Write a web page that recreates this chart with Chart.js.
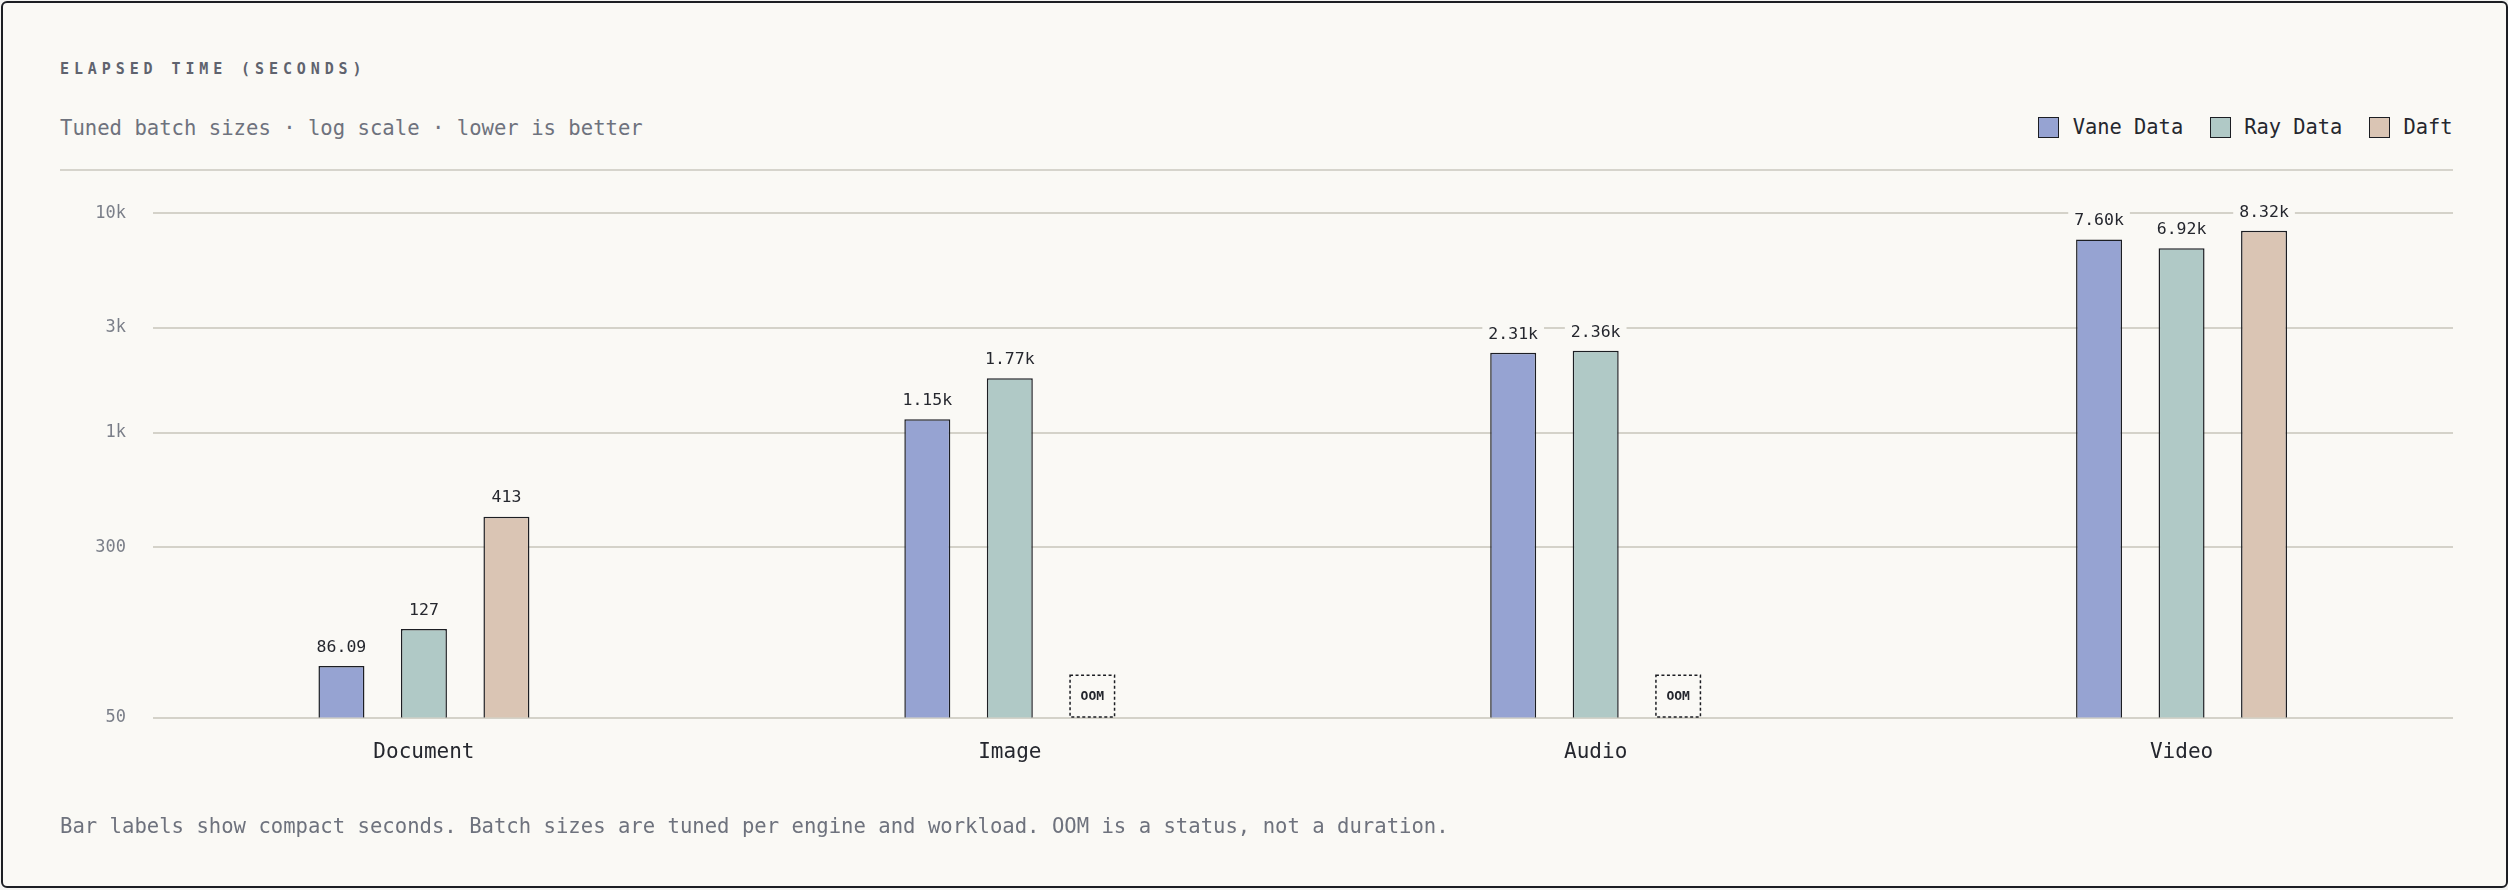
<!DOCTYPE html>
<html>
<head>
<meta charset="utf-8">
<title>Elapsed time</title>
<script src="https://cdn.jsdelivr.net/npm/chart.js@4.4.1/dist/chart.umd.min.js"></script>
<style>
  html, body { margin: 0; padding: 0; background: #f3f3f1; }
  body { width: 2508px; height: 890px; position: relative; overflow: hidden; font-family: "DejaVu Sans Mono", monospace; }
  #frame { position: absolute; left: 1px; top: 1px; width: 2503px; height: 883px; border: 2px solid #1c1e23; border-radius: 6px; background: #faf9f5; }
  #chart { position: absolute; left: 0; top: 0; }
  .title { position: absolute; left: 60px; top: 62px; font-size: 15px; line-height: 15px; letter-spacing: 4.9px; font-weight: 700; color: #5f636e; white-space: nowrap; }
  .sub { position: absolute; left: 60px; top: 118px; font-size: 20.6px; line-height: 20.6px; color: #6e727d; white-space: nowrap; }
  .rule { position: absolute; left: 60px; top: 169px; width: 2393px; height: 2px; background: #d6d4cc; }
  #legend { position: absolute; right: 55.5px; top: 117px; height: 21px; display: flex; align-items: center; }
  #legend .item { display: flex; align-items: center; margin-left: 26.5px; }
  #legend .item:first-child { margin-left: 0; }
  #legend .sw { width: 21px; height: 21px; box-sizing: border-box; border: 1.5px solid #1c1e23; margin-right: 13.5px; }
  #legend .lab { font-size: 20.4px; line-height: 21px; color: #25272e; white-space: nowrap; }
  .foot { position: absolute; left: 60px; top: 816px; font-size: 20.6px; line-height: 20.6px; color: #6e727d; white-space: nowrap; }
</style>
</head>
<body>
<div id="frame"></div>
<div class="title">ELAPSED TIME (SECONDS)</div>
<div class="sub">Tuned batch sizes · log scale · lower is better</div>
<div id="legend"></div>
<div class="rule"></div>
<canvas id="chart" width="2508" height="890"></canvas>
<div class="foot">Bar labels show compact seconds. Batch sizes are tuned per engine and workload. OOM is a status, not a duration.</div>
<script>
// data
const categories = ['Document', 'Image', 'Audio', 'Video'];
const engines = ['Vane Data', 'Ray Data', 'Daft'];
const vaneData = [86.09, 1150, 2310, 7600];
const rayData = [127, 1770, 2360, 6920];
const daftData = [413, null, null, 8320];
const daftStatus = ['', 'OOM', 'OOM', ''];
const tickValues = [50, 300, 1000, 3000, 10000];
const tickLabels = ['50', '300', '1k', '3k', '10k'];
const colors = ['#96a3d2', '#b0c9c6', '#dac5b4'];

const BG = '#faf9f5';
const INK = '#25272e';
const FONT = '"DejaVu Sans Mono", monospace';
Chart.defaults.font.family = FONT;

// legend
const legend = document.getElementById('legend');
engines.forEach((name, i) => {
  const item = document.createElement('div');
  item.className = 'item';
  item.innerHTML = '<span class="sw" style="background:' + colors[i] + '"></span><span class="lab">' + name + '</span>';
  legend.appendChild(item);
});

function compact(v) {
  if (v >= 1000) return (v / 1000).toFixed(2) + 'k';
  if (v < 100) return v.toFixed(2);
  return String(Math.round(v));
}

// horizontal rules, a bit inset from the plot edges
const gridLines = {
  id: 'gridLines',
  beforeDatasetsDraw(chart) {
    const { ctx, chartArea, scales: { y } } = chart;
    ctx.save();
    ctx.strokeStyle = '#d4d2c9';
    ctx.lineWidth = 2;
    tickValues.forEach(v => {
      const py = Math.round(y.getPixelForValue(v));
      ctx.beginPath();
      ctx.moveTo(chartArea.left + 22, py);
      ctx.lineTo(chartArea.right - 21.5, py);
      ctx.stroke();
    });
    ctx.restore();
  }
};

// value labels + OOM boxes
const barLabels = {
  id: 'barLabels',
  afterDatasetsDraw(chart) {
    const { ctx, chartArea } = chart;
    ctx.save();
    ctx.font = '16.5px ' + FONT;
    ctx.textAlign = 'center';
    ctx.textBaseline = 'middle';
    chart.data.datasets.forEach((ds, di) => {
      chart.getDatasetMeta(di).data.forEach((bar, i) => {
        const v = ds.data[i];
        if (v == null) return;
        const txt = compact(v);
        const w = ctx.measureText(txt).width + 12;
        const cy = bar.y - 19.5;
        ctx.fillStyle = BG;
        ctx.fillRect(bar.x - w / 2, cy - 11, w, 22);
        ctx.fillStyle = INK;
        ctx.fillText(txt, bar.x, cy + 1);
      });
    });

    const daftMeta = chart.getDatasetMeta(2);
    daftStatus.forEach((s, i) => {
      if (s !== 'OOM') return;
      const bar = daftMeta.data[i];
      const w = bar.width;
      const h = 42.5;
      const bottom = chartArea.bottom;
      ctx.setLineDash([3, 2.5]);
      ctx.lineWidth = 1.5;
      ctx.strokeStyle = '#1c1e23';
      ctx.strokeRect(bar.x - w / 2 + 0.75, bottom - h, w - 1.5, h - 0.75);
      ctx.setLineDash([]);
      ctx.fillStyle = INK;
      ctx.font = 'bold 13px ' + FONT;
      ctx.fillText(s, bar.x, bottom - h / 2);
    });
    ctx.restore();
  }
};

new Chart(document.getElementById('chart'), {
  type: 'bar',
  data: {
    labels: categories,
    datasets: [vaneData, rayData, daftData].map((d, i) => ({
      label: engines[i],
      data: d,
      backgroundColor: colors[i],
      borderColor: '#1c1e23',
      borderWidth: 1.5,
      categoryPercentage: 0.4224,
      barPercentage: 0.5576
    }))
  },
  options: {
    responsive: false,
    animation: false,
    events: [],
    layout: { padding: { left: 0, right: 33.5, top: 213.3, bottom: 112.3 } },
    plugins: { legend: { display: false }, tooltip: { enabled: false } },
    scales: {
      x: {
        offset: true,
        grid: { display: false },
        border: { display: false },
        ticks: { color: INK, font: { size: 21 }, padding: 14 },
        afterFit(s) { s.height = 60; }
      },
      y: {
        type: 'logarithmic',
        min: 50,
        max: 10000,
        grid: { display: false },
        border: { display: false },
        afterBuildTicks(s) { s.ticks = tickValues.map(v => ({ value: v })); },
        afterFit(s) { s.width = 131; },
        ticks: {
          autoSkip: false,
          padding: -3,
          color: '#7b7f89',
          font: { size: 17 },
          callback: v => {
            const k = tickValues.indexOf(v);
            return k >= 0 ? tickLabels[k] : '';
          }
        }
      }
    }
  },
  plugins: [gridLines, barLabels]
});
</script>
</body>
</html>
